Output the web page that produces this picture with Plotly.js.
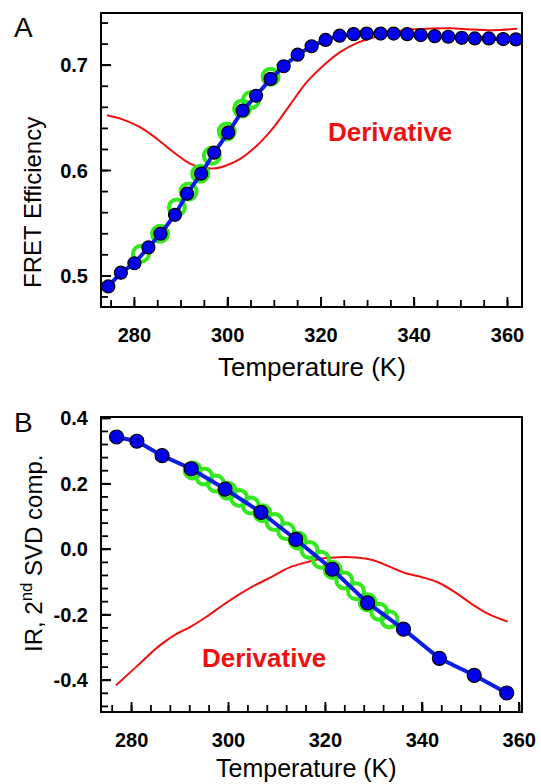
<!DOCTYPE html>
<html><head><meta charset="utf-8">
<script src="https://cdn.plot.ly/plotly-3.0.1.min.js"></script>
<style>html,body{margin:0;padding:0;background:#fff;}#chart{width:541px;height:784px;}</style>
</head><body><div id="chart"></div>
<script>
// ---- Panel A data ----
const tempA = [274.4,277.1,280.0,283.0,285.6,288.7,291.3,294.3,297.1,300.1,303.2,306.1,309.2,312.0,315.0,318.0,321.0,324.0,327.0,329.8,332.8,335.6,338.5,341.4,344.4,347.3,350.2,353.0,356.0,359.1,361.8];
const fretA = [0.490,0.503,0.512,0.527,0.540,0.558,0.578,0.597,0.617,0.636,0.657,0.671,0.687,0.699,0.710,0.718,0.724,0.728,0.7295,0.730,0.730,0.730,0.7295,0.7286,0.7276,0.727,0.726,0.7254,0.7254,0.7248,0.7245];
const tempAFit = [281.4,285.5,289.1,291.6,294.1,296.6,299.8,303.1,305.0,309.2];
const fretAFit = [0.521,0.540,0.565,0.580,0.597,0.614,0.637,0.659,0.667,0.689];
const tempADeriv = [274.1,277.6,281.2,284.8,288.4,292.0,294.8,297.0,299.1,302.7,306.3,309.9,313.4,317.0,320.6,324.2,327.8,331.3,335.0,339.2,343.5,347.8,351.5,355.0,358.5,362.1];
const derivA = [0.6524,0.6483,0.6412,0.6302,0.6174,0.6064,0.6026,0.6019,0.6038,0.6111,0.6238,0.6412,0.6626,0.6841,0.700,0.7127,0.7212,0.7264,0.731,0.734,0.7348,0.735,0.7342,0.7333,0.7335,0.7345];
// ---- Panel B data ----
const tempB = [276.9,281.1,286.3,292.3,299.3,306.7,313.9,321.4,328.7,336.1,343.5,350.7,357.4];
const svdB = [0.343,0.330,0.286,0.246,0.184,0.113,0.030,-0.061,-0.164,-0.244,-0.333,-0.385,-0.439];
const tempBFit = [292.6,295.0,297.4,299.8,302.2,304.6,307.0,309.5,311.9,314.3,316.7,319.1,321.5,323.9,326.3,328.7,331.1,333.2];
const svdBFit = [0.241,0.222,0.201,0.179,0.157,0.134,0.110,0.083,0.055,0.027,-0.002,-0.032,-0.063,-0.095,-0.128,-0.162,-0.191,-0.214];
const tempBDeriv = [276.8,280.9,285.7,289.2,291.9,295.4,298.8,302.2,305.7,309.1,312.5,316.0,319.4,322.9,326.3,329.7,333.2,336.6,340.1,343.5,347.0,350.4,353.8,357.6];
const derivB = [-0.415,-0.360,-0.295,-0.259,-0.239,-0.207,-0.171,-0.138,-0.108,-0.083,-0.056,-0.040,-0.028,-0.024,-0.025,-0.033,-0.053,-0.073,-0.086,-0.103,-0.134,-0.169,-0.199,-0.221];
// ---- tick labels ----
const xTicks = [280,300,320,340,360];
const xTickText = ['280','300','320','340','360'];
const yTicksA = [0.5,0.6,0.7];
const yTickTextA = ['0.5','0.6','0.7'];
const yTicksB = [-0.4,-0.2,0.0,0.2,0.4];
const yTickTextB = ['-0.4','-0.2','0.0','0.2','0.4'];

const W=541,H=784,L=102,R=20,T=14,B=73;
const plotW = W-L-R, plotH = H-T-B;
const pxX = x => (x-L)/plotW;
const pxY = y => (H-B-y)/plotH;
function stepVals(start,stop,step){const v=[];const n=Math.round((stop-start)/step);for(let i=0;i<=n;i++){v.push(+(start+i*step).toFixed(4));}return v;}

const FONT = 'Liberation Sans, Arial, sans-serif';
const RED = '#f01010', BLUE = '#0000f0', GREEN = '#33e81f', LINEBLUE = '#0a1ee6';

function redTrace(x,y,xa,ya){return {x,y,xaxis:xa,yaxis:ya,mode:'lines',type:'scatter',line:{color:RED,width:2,shape:'spline',smoothing:1},hoverinfo:'skip'};}
function greenTrace(x,y,xa,ya){return {x,y,xaxis:xa,yaxis:ya,mode:'markers',type:'scatter',marker:{symbol:'circle-open',size:16,color:GREEN,line:{width:4,color:GREEN}}};}
function blueTrace(x,y,xa,ya,sz){return {x,y,xaxis:xa,yaxis:ya,mode:'lines+markers',type:'scatter',line:{color:LINEBLUE,width:4},marker:{size:sz,color:BLUE,line:{color:'#000',width:1.2}}};}

const data = [
  redTrace(tempADeriv,derivA,'x','y'),
  greenTrace(tempAFit,fretAFit,'x','y'),
  blueTrace(tempA,fretA,'x','y',13),
  redTrace(tempBDeriv,derivB,'x2','y2'),
  greenTrace(tempBFit,svdBFit,'x2','y2'),
  blueTrace(tempB,svdB,'x2','y2',14)
];

const tickFont = {family:FONT,size:20,color:'#000',weight:'bold'};
const rangeA = [273.05,362.9], rangeB = [273.9,360.35];
const yRangeA = [0.4714,0.7486], yRangeB = [-0.494,0.401];
const domA = [pxY(306),1], domB = [0,pxY(418)];
function axisBase(range,anchor,tv,tt,dom,standoff){return {domain:dom,anchor,range,tickmode:'array',tickvals:tv,ticktext:tt,ticks:'inside',ticklen:9,tickwidth:1.8,tickcolor:'#000',showline:true,linewidth:2,linecolor:'#000',mirror:true,showgrid:false,zeroline:false,tickfont:tickFont,ticklabelstandoff:standoff};}

// tick marks drawn as shapes pointing into each panel (major 9 px, minor 6 px)
const shapes = [];
function xTickShapes(xa,ya,vals,range,len,panelH){vals.filter(v=>v>=range[0]&&v<=range[1]).forEach(v=>shapes.push({type:'line',layer:'above',xref:xa,yref:ya+' domain',x0:v,x1:v,y0:0,y1:len/panelH,line:{color:'#000',width:1.8}}));}
function yTickShapes(xa,ya,vals,range,len){vals.filter(v=>v>=range[0]&&v<=range[1]).forEach(v=>shapes.push({type:'line',layer:'above',xref:xa+' domain',yref:ya,x0:0,x1:len/plotW,y0:v,y1:v,line:{color:'#000',width:1.8}}));}
const hA = 306-14, hB = 711-418;
xTickShapes('x','y',stepVals(275,360,5),rangeA,6,hA);
xTickShapes('x','y',xTicks,rangeA,9,hA);
yTickShapes('x','y',stepVals(0.48,0.74,0.02),yRangeA,6);
yTickShapes('x','y',yTicksA,yRangeA,9);
xTickShapes('x2','y2',stepVals(276,360,4),rangeB,6,hB);
xTickShapes('x2','y2',xTicks,rangeB,9,hB);
yTickShapes('x2','y2',stepVals(-0.48,0.40,0.04),yRangeB,6);
yTickShapes('x2','y2',yTicksB,yRangeB,9);

const ann = (text,x,y,size,opts={}) => Object.assign({text,xref:'paper',yref:'paper',x:pxX(x),y:pxY(y),xanchor:'center',yanchor:'middle',showarrow:false,font:{family:FONT,size,color:'#000'}},opts);

const layout = {
  width:W,height:H,margin:{l:L,r:R,t:T,b:B},paper_bgcolor:'#fff',plot_bgcolor:'#fff',showlegend:false,
  xaxis:axisBase(rangeA,'y',xTicks,xTickText,[0,1],10),
  yaxis:axisBase(yRangeA,'x',yTicksA,yTickTextA,domA,8),
  xaxis2:axisBase(rangeB,'y2',xTicks,xTickText,[0,1],10),
  yaxis2:axisBase(yRangeB,'x2',yTicksB,yTickTextB,domB,8),
  shapes,
  annotations:[
    ann('A',23,27,28),
    ann('B',23,422,28),
    ann('FRET Efficiency',33,203,24,{textangle:-90}),
    ann('IR, 2<sup>nd</sup> SVD comp.',32,554,24,{textangle:-90}),
    ann('Temperature (K)',312,367,26),
    ann('Temperature (K)',306,768,25),
    ann('Derivative',390,132,26,{font:{family:FONT,size:26,color:RED,weight:'bold'}}),
    ann('Derivative',264,658,26,{font:{family:FONT,size:26,color:RED,weight:'bold'}})
  ]
};
Plotly.newPlot('chart',data,layout,{displayModeBar:false,staticPlot:true});
</script></body></html>
